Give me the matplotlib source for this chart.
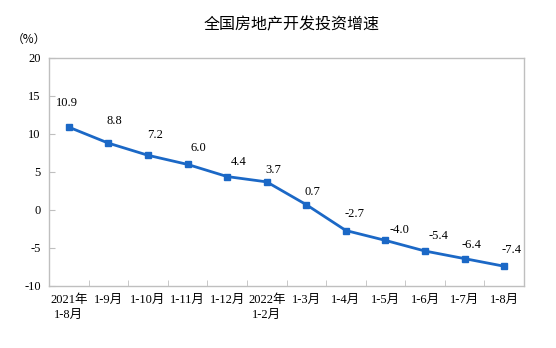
import matplotlib
matplotlib.use("Agg")
import matplotlib.pyplot as plt

# 数据
periods = ["2021年\n1-8月", "1-9月", "1-10月", "1-11月", "1-12月", "2022年\n1-2月",
           "1-3月", "1-4月", "1-5月", "1-6月", "1-7月", "1-8月"]
growth = [10.9, 8.8, 7.2, 6.0, 4.4, 3.7, 0.7, -2.7, -4.0, -5.4, -6.4, -7.4]
yticks = [-10, -5, 0, 5, 10, 15, 20]

# label offsets (pixels) relative to each point
label_dx = [-2, 6, 7, 11, 12, 7, 6, 9, 14, 13, 7, 7]
label_dy = [24, 22, 20, 16, 15, 12, 13, 17, 10, 15, 14, 16]

fonts = ["Liberation Serif", "Noto Sans CJK SC"]
blue = "#1b68c6"
grey = "#bfbfbf"

fig = plt.figure(figsize=(5.56, 3.48), dpi=100)
ax = fig.add_axes([49 / 556, 1 - 286 / 348, 475 / 556, 228 / 348])

x = list(range(len(growth)))
ax.plot(x, growth, color=blue, lw=2.0, marker="s", markersize=4.5, zorder=3)

for i, v in enumerate(growth):
    ax.annotate(f"{v:.1f}", (i, v), xytext=(label_dx[i], label_dy[i]),
                textcoords="offset pixels", ha="center", va="center",
                fontsize=9, family=fonts, color="black")

ax.set_xlim(-0.5, len(growth) - 0.5)
ax.set_ylim(-10, 20)
ax.set_yticks(yticks)
ax.set_yticklabels([str(t) for t in yticks], family=fonts, fontsize=9)
ax.tick_params(axis="y", direction="in", length=4, color=grey, pad=6)

ax.set_xticks(x)
ax.set_xticklabels(periods, family=fonts, fontsize=9, linespacing=1.3)
ax.tick_params(axis="x", which="major", length=0, pad=6)
ax.set_xticks([i + 0.5 for i in x[:-1]], minor=True)
ax.tick_params(axis="x", which="minor", direction="in", length=4, color=grey)

for s in ax.spines.values():
    s.set_color(grey)
    s.set_linewidth(1.0)

fig.text(292 / 556, 1 - 25 / 348, "全国房地产开发投资增速", ha="center", va="center",
         fontsize=11.5, family=["Noto Sans CJK SC", "DejaVu Sans"])
fig.text(29 / 556, 1 - 39 / 348, "（%）", ha="center", va="center",
         fontsize=8.5, family=["Noto Sans CJK SC", "DejaVu Sans"])

fig.savefig("out.png", dpi=100)
